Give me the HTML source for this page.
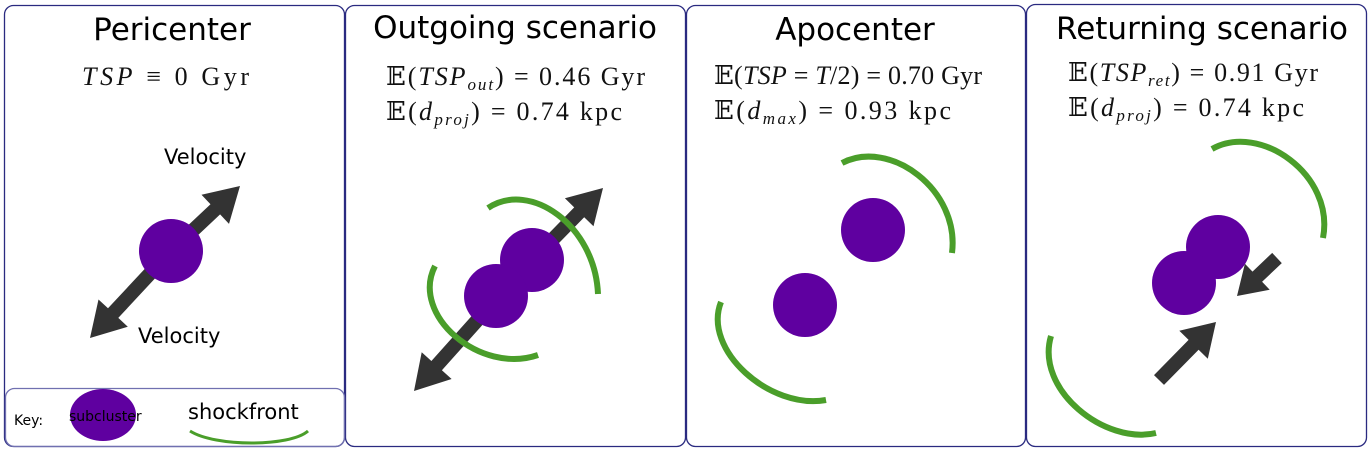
<!DOCTYPE html>
<html><head><meta charset="utf-8"><style>
html,body{margin:0;padding:0;background:#fff;width:1370px;height:452px;overflow:hidden}
svg{display:block}
.t{font-family:"DejaVu Sans","Liberation Sans",sans-serif;font-size:31px;fill:#000}
.m{font-family:"Liberation Serif","DejaVu Serif",serif;font-size:26px;fill:#111}
.v{font-family:"DejaVu Sans","Liberation Sans",sans-serif;font-size:21px;fill:#000}
</style></head><body>
<svg id="s" width="1370" height="452" viewBox="0 0 1370 452" xmlns="http://www.w3.org/2000/svg">
<g fill="none" stroke="#2a2a80" stroke-width="1.3">
<rect x="4.5" y="5.5" width="340" height="441" rx="9"/>
<rect x="345.5" y="5.5" width="340" height="441" rx="9"/>
<rect x="686.5" y="5.5" width="339" height="441" rx="9"/>
<rect x="1026.5" y="4.5" width="340" height="442" rx="9"/>
<rect x="5.5" y="388.5" width="339" height="58" rx="9" stroke="#7070b0"/>
</g>
<text class="t" x="172" y="40" text-anchor="middle">Pericenter</text>
<text class="t" x="515" y="38" text-anchor="middle">Outgoing scenario</text>
<text class="t" x="855" y="40" text-anchor="middle">Apocenter</text>
<text class="t" x="1202" y="39" text-anchor="middle">Returning scenario</text>
<text class="m" x="82" y="85" textLength="167" lengthAdjust="spacing"><tspan font-style="italic">TSP</tspan> ≡ 0 Gyr</text>
<text class="m" x="386" y="85" textLength="259" lengthAdjust="spacing">𝔼(<tspan font-style="italic">TSP</tspan><tspan font-size="17" dy="5" font-style="italic">out</tspan><tspan dy="-5">) = 0.46 Gyr</tspan></text>
<text class="m" x="386" y="120" textLength="236" lengthAdjust="spacing">𝔼(<tspan font-style="italic">d</tspan><tspan font-size="17" dy="5" font-style="italic">proj</tspan><tspan dy="-5">) = 0.74 kpc</tspan></text>
<text class="m" x="714" y="84" textLength="268" lengthAdjust="spacing">𝔼(<tspan font-style="italic">TSP</tspan> = <tspan font-style="italic">T</tspan>/2) = 0.70 Gyr</text>
<text class="m" x="714" y="119" textLength="237" lengthAdjust="spacing">𝔼(<tspan font-style="italic">d</tspan><tspan font-size="17" dy="5" font-style="italic">max</tspan><tspan dy="-5">) = 0.93 kpc</tspan></text>
<text class="m" x="1068" y="81" textLength="250" lengthAdjust="spacing">𝔼(<tspan font-style="italic">TSP</tspan><tspan font-size="17" dy="5" font-style="italic">ret</tspan><tspan dy="-5">) = 0.91 Gyr</tspan></text>
<text class="m" x="1068" y="116" textLength="236" lengthAdjust="spacing">𝔼(<tspan font-style="italic">d</tspan><tspan font-size="17" dy="5" font-style="italic">proj</tspan><tspan dy="-5">) = 0.74 kpc</tspan></text>
<text class="v" x="164" y="164">Velocity</text>
<text class="v" x="138" y="343">Velocity</text>
<g id="arrows" fill="#333"></g>
<g fill="#5f00a0">
<ellipse cx="171" cy="251" rx="32" ry="32"/>
<ellipse cx="532" cy="260" rx="32" ry="32"/>
<ellipse cx="496" cy="296" rx="32" ry="32"/>
<ellipse cx="873" cy="230" rx="32" ry="32"/>
<ellipse cx="805" cy="305" rx="32" ry="32"/>
<ellipse cx="1218" cy="247" rx="32" ry="32"/>
<ellipse cx="1184" cy="283" rx="32" ry="32"/>
<ellipse cx="103" cy="415" rx="33" ry="26"/>
</g>
<g fill="none" stroke="#4a9e2a" stroke-width="6">
<path d="M488,208 C530,180 595,225 598,294"/>
<path d="M435,266 C410,315 480,375 538,355"/>
<path d="M842,163 C890,138 960,190 952,253"/>
<path d="M721,302 C702,350 770,410 826,400"/>
<path d="M1212,149 C1260,122 1335,175 1323,238"/>
<path d="M1051,336 C1035,390 1105,445 1156,433"/>
<path d="M190,431 C215,447 290,447 308,431" stroke-width="3"/>
</g>
<text x="14" y="425" font-family="DejaVu Sans,Liberation Sans,sans-serif" font-size="14">Key:</text>
<text x="69" y="421" font-family="DejaVu Sans,Liberation Sans,sans-serif" font-size="14">subcluster</text>
<text x="188" y="419" font-family="DejaVu Sans,Liberation Sans,sans-serif" font-size="21">shockfront</text>
</svg>
<script>
var g=document.getElementById('arrows');
function arrow(x1,y1,x2,y2,w,hw,hl,name){
  var dx=x2-x1,dy=y2-y1,L=Math.hypot(dx,dy),ux=dx/L,uy=dy/L,px=-uy,py=ux;
  var bx=x2-ux*hl,by=y2-uy*hl;
  var pts=[[x1+px*w/2,y1+py*w/2],[bx+px*w/2,by+py*w/2],[bx+px*hw,by+py*hw],[x2,y2],[bx-px*hw,by-py*hw],[bx-px*w/2,by-py*w/2],[x1-px*w/2,y1-py*w/2]];
  var p=document.createElementNS('http://www.w3.org/2000/svg','polygon');
  p.setAttribute('points',pts.map(function(q){return q[0].toFixed(1)+','+q[1].toFixed(1)}).join(' '));
  
  
  g.appendChild(p);
}
arrow(171,251,240,186,14,20,34,'pericenter-velocity-arrow-up');
arrow(171,251,90,338,14,20,34,'pericenter-velocity-arrow-down');
arrow(515,278,603,188,14,20,34,'outgoing-velocity-arrow-up');
arrow(515,278,414,391,14,20,34,'outgoing-velocity-arrow-down');
arrow(1277,258,1237,296,14,18,28,'returning-velocity-arrow-small');
arrow(1159,380,1216,322,14,20,32,'returning-velocity-arrow-large');
</script>
</body></html>
